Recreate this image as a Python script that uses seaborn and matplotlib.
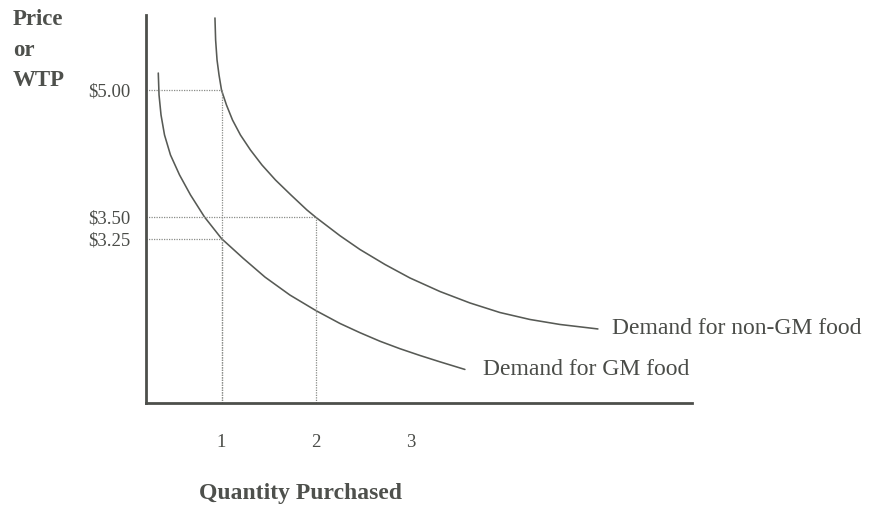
import matplotlib
matplotlib.use("Agg")
import matplotlib.pyplot as plt
import seaborn as sns
import pandas as pd

# ---- data ----
nongm_q = [0.93, 0.937, 0.952, 0.973, 1.00, 1.052, 1.116, 1.20, 1.306, 1.428, 1.571, 1.735,
           1.904, 2.00, 2.253, 2.465, 2.73, 2.994, 3.312, 3.629, 3.947, 4.264, 4.582, 4.984]
nongm_p = [5.855, 5.595, 5.359, 5.182, 5.00, 4.827, 4.65, 4.473, 4.296, 4.119, 3.942, 3.765,
           3.588, 3.50, 3.285, 3.122, 2.945, 2.786, 2.626, 2.491, 2.378, 2.296, 2.237, 2.184]

gm_q = [0.33, 0.338, 0.359, 0.396, 0.459, 0.555, 0.671, 0.819, 1.00, 1.227, 1.46, 1.724,
        2.00, 2.253, 2.465, 2.677, 2.888, 3.10, 3.312, 3.576]
gm_p = [5.205, 4.946, 4.71, 4.474, 4.238, 4.002, 3.766, 3.506, 3.25, 3.02, 2.796, 2.584,
        2.40, 2.249, 2.14, 2.039, 1.951, 1.871, 1.796, 1.706]

x_ticks = [1, 2, 3]
x_tick_labels = ["1", "2", "3"]
y_ticks = [5.00, 3.50, 3.25]
y_tick_labels = ["$5.00", "$3.50", "$3.25"]

# reference (dotted) points: (quantity, price)
ref_q = [1, 2, 1]
ref_p = [5.00, 3.50, 3.25]

series_names = ["Demand for non-GM food", "Demand for GM food"]

df = pd.concat([
    pd.DataFrame({"q": nongm_q, "p": nongm_p, "s": series_names[0]}),
    pd.DataFrame({"q": gm_q, "p": gm_p, "s": series_names[1]}),
])

sns.set_theme(style="white")
plt.rcParams["font.family"] = ["Liberation Serif", "DejaVu Serif"]

fig = plt.figure(figsize=(8.7, 5.08), dpi=100)
ax = fig.add_axes([146 / 870, 105 / 508, 546 / 870, 388 / 508])

x_lo, x_hi = 0.20, 5.98
y_lo, y_hi = 1.31, 5.89

curve_col = "#575a55"
sns.lineplot(data=df, x="q", y="p", units="s", estimator=None, sort=False,
             color=curve_col, linewidth=1.15, ax=ax, legend=False)
for ln in ax.get_lines():
    ln.set_solid_joinstyle("round")
    ln.set_solid_capstyle("round")

dot_col = "#8a8c88"
for q, p in zip(ref_q, ref_p):
    ax.plot([x_lo, q], [p, p], color=dot_col, linewidth=0.9, linestyle=(0, (1, 1)))
    ax.plot([q, q], [y_lo, p], color=dot_col, linewidth=0.9, linestyle=(0, (1, 1)))

ax.set_xlim(x_lo, x_hi)
ax.set_ylim(y_lo, y_hi)

ax.set_xticks(x_ticks)
ax.set_xticklabels(x_tick_labels)
ax.set_yticks(y_ticks)
ax.set_yticklabels(y_tick_labels)
ax.tick_params(axis="both", length=0, labelsize=13.5, labelcolor="#4a4c48")
ax.tick_params(axis="x", pad=22)
ax.tick_params(axis="y", pad=11)

for side in ["top", "right"]:
    ax.spines[side].set_visible(False)
for side in ["left", "bottom"]:
    ax.spines[side].set_color("#4d4f4b")
    ax.spines[side].set_linewidth(2.0)
ax.set_xlabel("")
ax.set_ylabel("")

txt_col = "#4a4c48"
ax.text(nongm_q[-1] + 0.15, nongm_p[-1], series_names[0], fontsize=17,
        color=txt_col, va="center", ha="left", clip_on=False)
ax.text(gm_q[-1] + 0.19, gm_p[-1], series_names[1], fontsize=17,
        color=txt_col, va="center", ha="left", clip_on=False)

fig.text(13 / 870, 1 - 25 / 508, "Price", fontsize=16.5, fontweight="bold",
         color="#4e504c", ha="left", va="baseline")
fig.text(13 / 870, 1 - 56 / 508, "or", fontsize=16.5, fontweight="bold",
         color="#4e504c", ha="left", va="baseline")
fig.text(13 / 870, 1 - 86 / 508, "WTP", fontsize=16.5, fontweight="bold",
         color="#4e504c", ha="left", va="baseline")
fig.text(301 / 870, 1 - 499 / 508, "Quantity Purchased", fontsize=17,
         fontweight="bold", color="#4e504c", ha="center", va="baseline")

fig.savefig("out.png", dpi=100, facecolor="white")
